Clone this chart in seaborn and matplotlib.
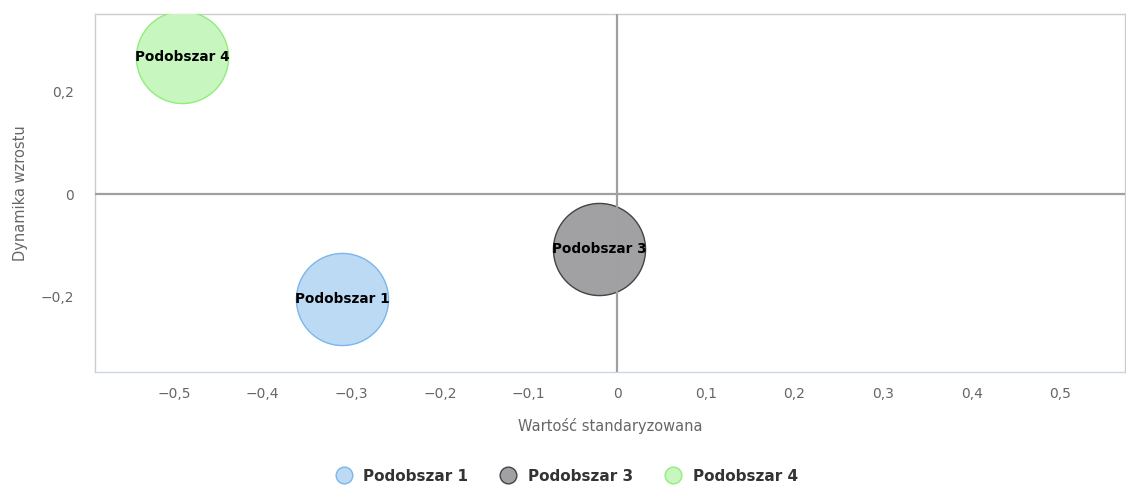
import pandas as pd
import matplotlib
matplotlib.use("Agg")
import matplotlib.pyplot as plt
from matplotlib.lines import Line2D
from matplotlib.ticker import FuncFormatter, MultipleLocator
import seaborn as sns

# DATA
NAMES = ["Podobszar 1", "Podobszar 3", "Podobszar 4"]
X_VALUES = [-0.310, -0.020, -0.491]
Y_VALUES = [-0.204, -0.107, 0.266]
EDGE_COLORS = ["#7cb5ec", "#434348", "#90ed7d"]
FILL_COLORS = ["#bddaf5", "#a1a1a3", "#c7f6be"]

X_LABEL = "Wartość standaryzowana"
Y_LABEL = "Dynamika wzrostu"


def pl_format(v, pos):
    """Polish number style: comma decimal, real minus sign."""
    if abs(v) < 1e-9:
        return "0"
    s = f"{v:.1f}".replace(".", ",")
    return s.replace("-", "\u2212")


def plot_bubbles(data):
    fig = plt.figure(figsize=(11.26, 4.86), dpi=100)
    ax = fig.add_axes([95 / 1126, 114 / 486, 1030 / 1126, 358 / 486])

    # zero lines through the middle of the plot
    ax.axhline(0, color="#a0a0a0", lw=1.6, zorder=4)
    ax.axvline(0, color="#a0a0a0", lw=1.6, zorder=4)

    for name, fill, edge in zip(NAMES, FILL_COLORS, EDGE_COLORS):
        sub = data[data["name"] == name]
        sns.scatterplot(
            data=sub, x="x", y="y", ax=ax,
            s=4400, color=fill, edgecolor=edge, linewidth=1.0,
            legend=False, zorder=3
        )
        for _, row in sub.iterrows():
            ax.text(row["x"], row["y"], row["name"], ha="center", va="center",
                    fontsize=9.8, fontweight="bold", color="black", zorder=5)

    ax.set_xlim(-0.589, 0.573)
    ax.set_ylim(-0.346, 0.35)
    ax.xaxis.set_major_locator(MultipleLocator(0.1))
    ax.yaxis.set_major_locator(MultipleLocator(0.2))
    ax.xaxis.set_major_formatter(FuncFormatter(pl_format))
    ax.yaxis.set_major_formatter(FuncFormatter(pl_format))

    ax.tick_params(axis="x", length=10, width=1, color="#ccd6eb",
                   labelsize=10, labelcolor="#666666", pad=1)
    ax.tick_params(axis="y", length=0, labelsize=10, labelcolor="#666666", pad=15)

    for side in ["top", "left", "right"]:
        ax.spines[side].set_color("#cccccc")
        ax.spines[side].set_linewidth(1)
    ax.spines["bottom"].set_color("#ccd6eb")
    ax.spines["bottom"].set_linewidth(1)

    ax.set_xlabel(X_LABEL, fontsize=10.5, color="#666666", labelpad=12)
    ax.set_ylabel(Y_LABEL, fontsize=10.5, color="#666666", labelpad=9)
    ax.grid(False)

    handles = [
        Line2D([0], [0], marker="o", linestyle="", markersize=12,
               markerfacecolor=f, markeredgecolor=e, markeredgewidth=1)
        for f, e in zip(FILL_COLORS, EDGE_COLORS)
    ]
    fig.legend(handles, NAMES, loc="center", bbox_to_anchor=(0.5, 1 - 476 / 486),
               ncol=3, frameon=False, handletextpad=0.3, columnspacing=1.6,
               prop={"size": 11, "weight": "bold"}, labelcolor="#333333")
    return fig


if __name__ == "__main__":
    sns.set_style("white")
    plt.rcParams["font.family"] = ["DejaVu Sans"]
    df = pd.DataFrame({"name": NAMES, "x": X_VALUES, "y": Y_VALUES})
    fig = plot_bubbles(df)
    fig.savefig("out.png", dpi=100)
    plt.close(fig)
